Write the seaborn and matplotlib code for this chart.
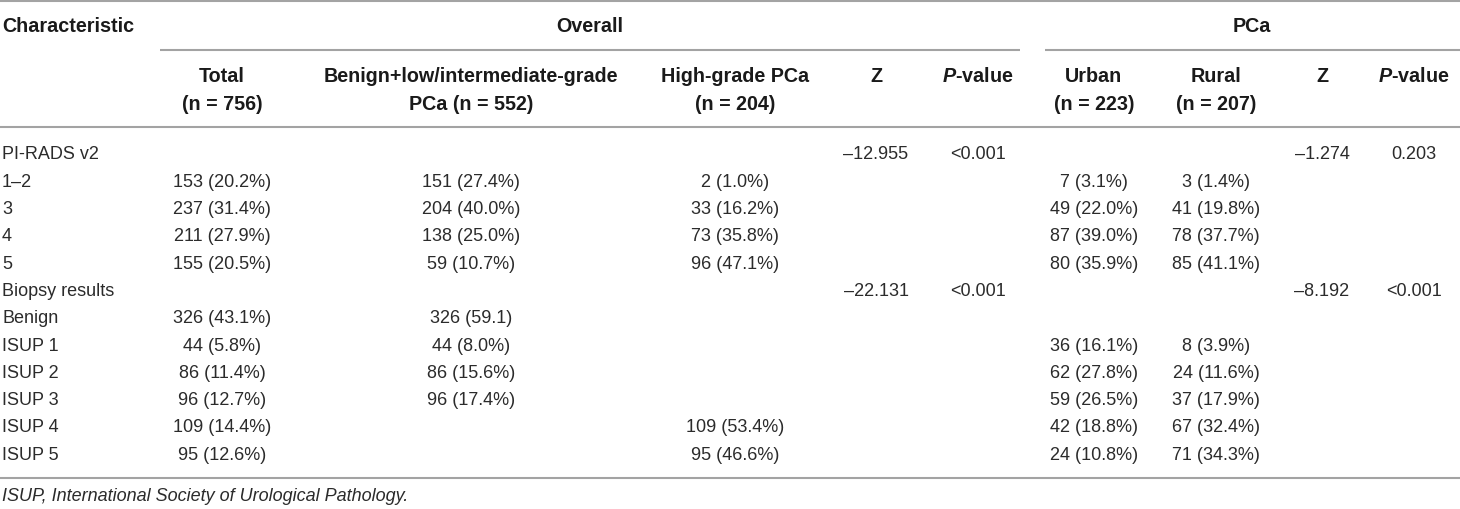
import pandas as pd
import matplotlib
matplotlib.use("Agg")
import matplotlib.pyplot as plt
import seaborn as sns

# table contents
row_labels = ["PI-RADS v2", "1–2", "3", "4", "5", "Biopsy results", "Benign",
              "ISUP 1", "ISUP 2", "ISUP 3", "ISUP 4", "ISUP 5"]
total = ["", "153 (20.2%)", "237 (31.4%)", "211 (27.9%)", "155 (20.5%)", "",
         "326 (43.1%)", "44 (5.8%)", "86 (11.4%)", "96 (12.7%)", "109 (14.4%)", "95 (12.6%)"]
benign_low = ["", "151 (27.4%)", "204 (40.0%)", "138 (25.0%)", "59 (10.7%)", "",
              "326 (59.1)", "44 (8.0%)", "86 (15.6%)", "96 (17.4%)", "", ""]
high_grade = ["", "2 (1.0%)", "33 (16.2%)", "73 (35.8%)", "96 (47.1%)", "",
              "", "", "", "", "109 (53.4%)", "95 (46.6%)"]
z_overall = ["–12.955", "", "", "", "", "–22.131", "", "", "", "", "", ""]
p_overall = ["<0.001", "", "", "", "", "<0.001", "", "", "", "", "", ""]
urban = ["", "7 (3.1%)", "49 (22.0%)", "87 (39.0%)", "80 (35.9%)", "",
         "", "36 (16.1%)", "62 (27.8%)", "59 (26.5%)", "42 (18.8%)", "24 (10.8%)"]
rural = ["", "3 (1.4%)", "41 (19.8%)", "78 (37.7%)", "85 (41.1%)", "",
         "", "8 (3.9%)", "24 (11.6%)", "37 (17.9%)", "67 (32.4%)", "71 (34.3%)"]
z_pca = ["–1.274", "", "", "", "", "–8.192", "", "", "", "", "", ""]
p_pca = ["0.203", "", "", "", "", "<0.001", "", "", "", "", "", ""]

sub_headers = [("Total", "(n = 756)"),
               ("Benign+low/intermediate-grade", "PCa (n = 552)"),
               ("High-grade PCa", "(n = 204)"),
               ("Z", ""), ("$P$-value", ""),
               ("Urban", "(n = 223)"), ("Rural", "(n = 207)"),
               ("Z", ""), ("$P$-value", "")]
footnote = "ISUP, International Society of Urological Pathology."

df = pd.DataFrame({"total": total, "benign_low": benign_low, "high_grade": high_grade,
                   "z_overall": z_overall, "p_overall": p_overall, "urban": urban,
                   "rural": rural, "z_pca": z_pca, "p_pca": p_pca}, index=row_labels)

sns.set_theme(style="white")
plt.rcParams["font.family"] = ["Liberation Sans", "DejaVu Sans"]
plt.rcParams["mathtext.fontset"] = "custom"
plt.rcParams["mathtext.it"] = "Liberation Sans:italic:bold"
plt.rcParams["mathtext.rm"] = "Liberation Sans:bold"

# layout in pixel units
col_x = [222, 471, 735, 876, 978, 1094, 1216, 1322, 1414]
row_y0, row_step = 155, 27.3
body_color = "#2b2b2b"
head_color = "#1a1a1a"
line_color = "#a3a3a3"

fig = plt.figure(figsize=(14.6, 5.1), dpi=100)
ax = fig.add_axes([0, 0, 1, 1])
ax.set_xlim(0, 1460)
ax.set_ylim(510, 0)
ax.axis("off")

# rules
ax.hlines([1.5, 128, 479], 0, 1460, color=line_color, lw=1.5)
ax.hlines(51, 160, 1020, color=line_color, lw=1.5)
ax.hlines(51, 1045, 1460, color=line_color, lw=1.5)

# top headers
hkw = dict(fontsize=14.2, fontweight="bold", color=head_color, va="center")
ax.text(2, 27, "Characteristic", ha="left", **hkw)
ax.text(590, 27, "Overall", ha="center", **hkw)
ax.text(1252, 27, "PCa", ha="center", **hkw)
for x, (l1, l2) in zip(col_x, sub_headers):
    ax.text(x, 77, l1, ha="center", **hkw)
    if l2:
        ax.text(x, 105, l2, ha="center", **hkw)

# body
bkw = dict(fontsize=13, color=body_color, va="center")
for i, label in enumerate(df.index):
    y = row_y0 + i * row_step
    ax.text(2, y, label, ha="left", **bkw)
    for x, col in zip(col_x, df.columns):
        val = df.iloc[i][col]
        if val:
            ax.text(x, y, val, ha="center", **bkw)

ax.text(2, 497, footnote, ha="left", fontstyle="italic", **bkw)

fig.savefig("out.png", dpi=100)
